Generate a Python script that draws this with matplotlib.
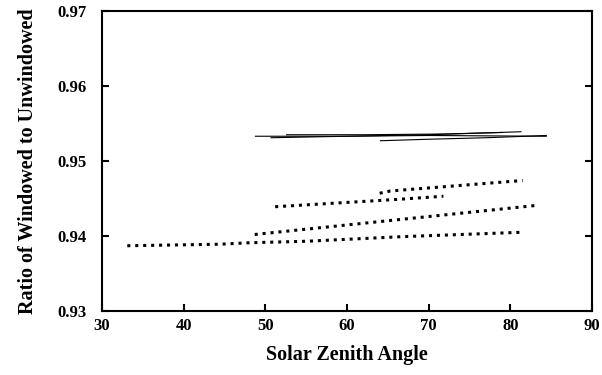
import matplotlib
matplotlib.use('Agg')
import matplotlib.pyplot as plt

# solid curves
solid_x = [
    [48.8, 60.0, 70.0, 84.4],
    [50.7, 60.0, 70.0, 81.3],
    [64.1, 70.0, 77.0, 84.4],
    [52.6, 62.0, 72.0, 79.0],
]
solid_y = [
    [0.9533, 0.9533, 0.9534, 0.9533],
    [0.9531, 0.9533, 0.9535, 0.9539],
    [0.9527, 0.9529, 0.9531, 0.9534],
    [0.9535, 0.9535, 0.9536, 0.9538],
]

# dotted curves
dot_x = [
    [33.1, 44.4, 48.1, 55.1, 66.5, 81.5],
    [48.7, 66.5, 83.4],
    [51.2, 66.5, 71.8],
    [64.0, 65.3, 81.5],
]
dot_y = [
    [0.9387, 0.9389, 0.9391, 0.9393, 0.9399, 0.9405],
    [0.9402, 0.9422, 0.9441],
    [0.9439, 0.9449, 0.9453],
    [0.9457, 0.9460, 0.9474],
]

xticks = [30, 40, 50, 60, 70, 80, 90]
yticks = [0.93, 0.94, 0.95, 0.96, 0.97]

plt.rcParams['font.family'] = 'Liberation Serif'
plt.rcParams['font.weight'] = 'bold'

fig = plt.figure(figsize=(6.02, 3.75), dpi=100)
ax = fig.add_axes([0.1694, 0.1707, 0.814, 0.80])

for xs, ys in zip(solid_x, solid_y):
    ax.plot(xs, ys, color='black', linewidth=0.8)
for xs, ys in zip(dot_x, dot_y):
    ax.plot(xs, ys, color='black', linewidth=2.2, linestyle=(0, (1, 1.6)),
            dash_capstyle='butt')

ax.set_xlim(30, 90)
ax.set_ylim(0.93, 0.97)
ax.set_xticks(xticks)
ax.set_yticks(yticks)
ax.set_xticklabels([str(t) for t in xticks], fontsize=12, fontweight='bold')
ax.set_yticklabels(['%.2f' % t for t in yticks], fontsize=12, fontweight='bold')
ax.tick_params(direction='in', length=5, width=1.5, right=True, top=False)
ax.tick_params(axis='x', pad=5)
ax.tick_params(axis='y', pad=11)
for s in ax.spines.values():
    s.set_linewidth(1.5)

ax.set_xlabel('Solar Zenith Angle', fontsize=14.5, fontweight='bold', labelpad=8)
ax.set_ylabel('Ratio of Windowed to Unwindowed', fontsize=14.5, fontweight='bold', labelpad=14)

fig.savefig('out.png', dpi=100)
